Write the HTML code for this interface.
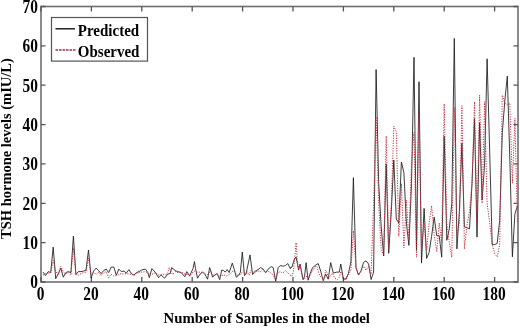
<!DOCTYPE html>
<html><head><meta charset="utf-8"><style>
html,body{margin:0;padding:0;background:#fff;width:520px;height:328px;overflow:hidden}
svg{display:block;will-change:transform}
text{font-family:"Liberation Serif",serif;font-weight:bold;fill:#000}
.tl text{font-size:15.4px}
.lg{font-size:15px}
.al{font-size:14.8px}
.yl{font-size:14.5px}
</style></head><body>
<svg width="520" height="328" viewBox="0 0 520 328">
<rect x="41" y="6.5" width="477" height="275.5" fill="none" stroke="#6e6e6e" stroke-width="1.6"/>
<path d="M41.00 282V277M41.00 6.5V11.5M91.40 282V277M91.40 6.5V11.5M141.80 282V277M141.80 6.5V11.5M192.20 282V277M192.20 6.5V11.5M242.60 282V277M242.60 6.5V11.5M293.00 282V277M293.00 6.5V11.5M343.40 282V277M343.40 6.5V11.5M393.80 282V277M393.80 6.5V11.5M444.20 282V277M444.20 6.5V11.5M494.60 282V277M494.60 6.5V11.5M41 282.00H45.5M518 282.00H513.5M41 242.64H45.5M518 242.64H513.5M41 203.29H45.5M518 203.29H513.5M41 163.93H45.5M518 163.93H513.5M41 124.57H45.5M518 124.57H513.5M41 85.21H45.5M518 85.21H513.5M41 45.86H45.5M518 45.86H513.5M41 6.50H45.5M518 6.50H513.5" stroke="#555" stroke-width="1.3" fill="none"/>
<polyline points="43.1,272.1 45.6,275.6 48.2,271.6 50.7,272.6 53.2,247.1 55.7,278.7 58.3,273.6 60.8,268.1 63.3,277.2 65.8,272.6 68.4,271.6 70.9,272.6 73.4,236.2 75.9,274.5 78.4,271.6 81.0,271.6 83.5,271.1 86.0,270.1 88.5,250.1 91.1,278.0 93.6,271.1 96.1,268.1 98.6,270.6 101.1,273.6 103.7,270.6 106.2,269.1 108.7,272.6 111.2,267.1 113.8,267.1 116.3,275.1 118.8,269.1 121.3,271.6 123.9,271.1 126.4,273.1 128.9,269.6 131.4,273.6 133.9,275.1 136.5,272.6 139.0,271.6 141.5,270.1 143.0,269.6 145.5,269.1 147.8,272.6 149.3,277.7 151.9,268.6 155.1,272.1 158.6,277.7 161.1,275.1 164.6,278.2 167.7,274.1 170.2,273.6 171.7,267.6 175.2,270.6 177.7,271.6 181.2,272.6 184.8,276.7 186.8,271.6 189.8,276.2 190.0,275.1 193.0,268.6 194.5,261.6 195.5,268.6 197.5,278.2 200.1,274.1 202.6,272.1 205.1,274.6 207.6,279.2 209.6,267.6 211.1,271.6 212.6,277.2 214.6,275.1 217.2,273.6 219.7,279.7 221.7,270.1 223.7,270.6 225.2,272.1 227.2,269.6 229.2,272.6 232.3,263.1 234.3,269.6 236.3,277.2 238.3,275.6 240.3,272.6 242.3,252.1 244.5,275.6 246.0,274.1 250.0,254.9 252.6,274.6 255.1,271.1 258.1,269.6 260.6,267.6 262.6,268.6 265.7,272.6 268.2,269.1 271.2,266.6 273.2,267.6 275.7,281.2 278.2,267.6 280.2,265.6 283.3,266.1 285.3,265.6 287.8,263.6 290.3,268.6 290.0,268.1 292.0,267.1 294.0,260.1 296.0,257.0 297.5,264.1 298.6,270.1 300.1,264.1 301.6,272.1 303.1,279.7 304.6,276.2 306.1,262.6 308.1,280.2 310.1,273.6 312.6,267.6 315.7,265.1 318.2,263.6 320.7,271.1 323.2,280.7 325.7,274.1 328.2,279.2 330.7,262.6 333.3,273.1 336.8,272.1 339.3,272.1 340.8,264.0 343.3,279.0 345.9,279.0 348.4,273.5 350.9,262.0 353.4,177.7 356.0,268.0 358.5,275.0 361.0,271.0 363.5,262.5 366.0,260.8 368.6,264.0 371.1,279.5 373.6,272.0 376.1,69.5 378.7,183.6 381.2,226.9 383.7,256.0 386.2,163.9 388.7,253.3 391.3,211.2 393.8,160.0 396.3,219.0 398.8,223.0 401.4,162.0 403.9,172.6 406.4,223.0 408.9,245.4 411.5,183.6 414.0,57.3 416.5,250.5 419.0,81.7 421.5,263.1 424.1,208.4 426.6,258.4 429.1,252.5 431.6,236.3 434.2,217.1 436.7,235.6 439.2,235.6 441.7,257.2 444.2,136.0 446.8,240.3 449.3,228.9 451.8,203.3 454.3,38.4 456.9,248.9 459.4,211.2 461.9,143.1 464.4,226.9 467.0,227.7 469.5,228.9 472.0,183.6 474.5,118.7 477.0,237.1 479.6,122.6 482.1,200.1 484.6,163.9 487.1,58.8 489.7,152.1 492.2,244.6 494.7,244.6 497.2,243.4 499.7,220.2 502.3,132.8 504.8,101.0 507.3,76.2 509.8,158.0 512.4,256.8 514.9,213.9 517.4,206.0" fill="none" stroke="#1a1a1a" stroke-width="0.85" stroke-linejoin="round" />
<polyline points="43.1,275.1 45.6,273.6 48.2,273.1 50.7,272.6 53.2,260.5 55.7,271.1 58.3,275.1 60.8,266.1 63.3,272.1 65.8,274.1 68.4,272.6 70.9,275.1 73.4,248.0 75.9,274.6 78.4,275.1 81.0,273.6 83.5,272.6 86.0,272.1 88.5,258.0 91.1,274.6 93.6,272.1 96.1,274.6 98.6,272.1 101.1,275.6 103.7,272.6 106.2,271.6 108.7,277.7 111.2,274.1 113.8,276.2 116.3,275.6 118.8,274.6 121.3,273.6 123.9,274.1 126.4,273.6 128.9,274.1 131.4,274.1 133.9,275.6 136.5,273.6 139.0,272.6 141.5,272.1 143.0,272.1 145.5,271.6 148.0,273.1 150.6,275.1 153.1,273.6 155.6,272.6 158.1,275.1 160.6,274.6 163.1,274.1 165.7,275.1 167.7,272.6 169.2,267.6 170.7,271.1 172.7,274.6 175.2,271.6 178.2,272.6 180.7,272.1 183.3,273.1 185.8,274.6 188.3,274.1 190.0,275.6 192.0,273.1 194.5,271.1 196.5,272.1 199.1,272.1 201.1,272.6 203.1,271.6 205.6,274.1 208.1,274.6 210.1,271.1 212.1,275.1 214.6,275.1 217.2,274.1 219.7,276.2 221.7,275.6 224.2,275.1 226.2,276.2 228.2,275.1 230.2,274.1 232.3,271.6 234.3,270.6 236.3,274.6 238.3,275.6 240.3,273.6 240.0,274.6 242.0,272.6 243.5,270.6 245.0,274.6 247.0,271.6 249.1,275.1 251.1,270.1 252.6,271.6 255.1,273.1 257.6,270.6 260.1,272.1 262.6,269.6 265.2,272.6 267.7,271.1 270.2,272.6 272.7,274.6 275.7,279.7 278.2,272.6 280.2,271.6 282.8,273.1 285.3,270.6 287.8,272.6 290.3,275.1 290.0,275.1 292.0,276.2 293.5,271.1 296.1,242.6 297.5,263.1 298.6,269.1 300.1,264.1 302.1,276.2 303.6,279.2 305.1,278.2 307.1,275.6 308.6,278.2 310.6,274.1 313.1,270.1 315.7,266.1 317.2,267.1 318.7,273.1 320.2,276.2 322.2,278.2 323.7,280.2 325.7,270.1 327.2,273.1 328.7,278.7 330.2,276.2 332.3,273.1 334.8,278.2 337.3,279.7 339.3,277.2 340.8,271.5 343.3,277.5 345.9,280.0 348.4,275.0 350.9,270.0 353.4,230.8 356.0,266.3 358.5,274.9 361.0,271.0 363.5,266.3 366.0,270.2 368.6,266.3 371.1,274.1 373.6,203.3 376.1,116.7 378.7,203.3 381.2,250.5 383.7,254.4 386.2,136.0 388.7,250.5 391.3,203.3 393.8,126.1 396.3,132.0 398.8,236.3 401.4,183.6 403.9,247.8 406.4,200.1 408.9,239.9 411.5,163.9 414.0,132.4 416.5,257.2 419.0,113.6 421.5,250.5 424.1,223.0 426.6,250.5 429.1,223.0 431.6,206.0 434.2,234.8 436.7,251.7 439.2,223.0 441.7,242.6 444.2,103.7 446.8,223.0 449.3,242.6 451.8,257.2 454.3,107.3 456.9,234.8 459.4,223.0 461.9,105.7 464.4,248.9 467.0,224.9 469.5,211.2 472.0,183.6 474.5,101.7 477.0,226.9 479.6,95.1 482.1,203.3 484.6,101.7 487.1,203.3 489.7,223.0 492.2,244.6 494.7,253.7 497.2,256.8 499.7,244.6 502.3,95.1 504.8,102.9 507.3,104.9 509.8,102.9 512.4,183.6 514.9,118.3 517.4,223.0" fill="none" stroke="#c83040" stroke-width="1.0" stroke-linejoin="round" stroke-dasharray="1.2,1.3"/>
<g class="tl"><text transform="translate(40.50,300.2) scale(1,1.2)" text-anchor="middle">0</text><text transform="translate(90.90,300.2) scale(1,1.2)" text-anchor="middle">20</text><text transform="translate(141.30,300.2) scale(1,1.2)" text-anchor="middle">40</text><text transform="translate(191.70,300.2) scale(1,1.2)" text-anchor="middle">60</text><text transform="translate(242.10,300.2) scale(1,1.2)" text-anchor="middle">80</text><text transform="translate(292.50,300.2) scale(1,1.2)" text-anchor="middle">100</text><text transform="translate(342.90,300.2) scale(1,1.2)" text-anchor="middle">120</text><text transform="translate(393.30,300.2) scale(1,1.2)" text-anchor="middle">140</text><text transform="translate(443.70,300.2) scale(1,1.2)" text-anchor="middle">160</text><text transform="translate(494.10,300.2) scale(1,1.2)" text-anchor="middle">180</text><text transform="translate(37.9,288.40) scale(1,1.2)" text-anchor="end">0</text><text transform="translate(37.9,249.04) scale(1,1.2)" text-anchor="end">10</text><text transform="translate(37.9,209.69) scale(1,1.2)" text-anchor="end">20</text><text transform="translate(37.9,170.33) scale(1,1.2)" text-anchor="end">30</text><text transform="translate(37.9,130.97) scale(1,1.2)" text-anchor="end">40</text><text transform="translate(37.9,91.61) scale(1,1.2)" text-anchor="end">50</text><text transform="translate(37.9,52.26) scale(1,1.2)" text-anchor="end">60</text><text transform="translate(37.9,12.90) scale(1,1.2)" text-anchor="end">70</text></g>
<rect x="51.5" y="17.5" width="96" height="43.6" fill="#fff" stroke="#555" stroke-width="1.2"/>
<path d="M55.5 28.8H75" stroke="#111" stroke-width="1.4"/>
<path d="M55.5 50H75.5" stroke="#a83048" stroke-width="1.3" stroke-dasharray="2.6,0.9"/>
<text class="lg" transform="translate(77.8,36.3) scale(1,1.15)">Predicted</text>
<text class="lg" transform="translate(77.8,56.6) scale(1,1.15)">Observed</text>
<text class="al" x="163.5" y="322.8">Number of Samples in the model</text>
<text class="yl" transform="translate(11,239) rotate(-90)">TSH hormone levels (mIU/L)</text>
</svg>
</body></html>
